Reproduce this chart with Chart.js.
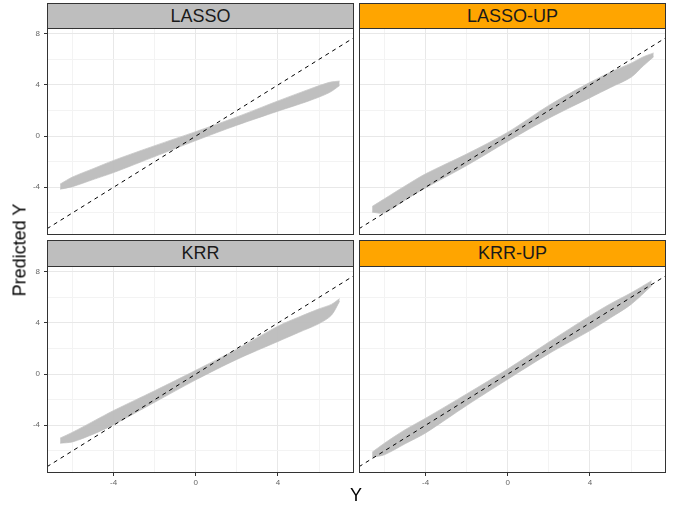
<!DOCTYPE html>
<html><head><meta charset="utf-8">
<script src="https://cdn.jsdelivr.net/npm/chart.js@4/dist/chart.umd.min.js"></script>
<style>
html,body{margin:0;padding:0;background:#fff;width:678px;height:506px;overflow:hidden;font-family:"Liberation Sans",Arial,sans-serif}
.strip{position:absolute;box-sizing:border-box;border:1px solid #333;font-size:18px;color:#1a1a1a;text-align:center}
canvas{position:absolute}
.ttl{position:absolute;font-size:18px;color:#000;white-space:nowrap;transform:translate(-50%,-50%)}
</style></head><body>
<div class="strip" style="left:47px;top:3px;width:307px;height:26px;line-height:24px;background:#bebebe">LASSO</div>
<div class="strip" style="left:359px;top:3px;width:307px;height:26px;line-height:24px;background:#ffa500">LASSO-UP</div>
<div class="strip" style="left:47px;top:240px;width:307px;height:27px;line-height:25px;background:#bebebe">KRR</div>
<div class="strip" style="left:359px;top:240px;width:307px;height:27px;line-height:25px;background:#ffa500">KRR-UP</div>
<canvas id="c0" width="354" height="207" style="left:0;top:28px"></canvas>
<canvas id="c1" width="307" height="207" style="left:359px;top:28px"></canvas>
<canvas id="c2" width="354" height="230" style="left:0;top:266px"></canvas>
<canvas id="c3" width="307" height="230" style="left:359px;top:266px"></canvas>
<div class="ttl" style="left:20px;top:250px;transform:translate(-50%,-50%) rotate(-90deg)">Predicted Y</div>
<div class="ttl" style="left:356px;top:495px">Y</div>
<script>
// ---- data ----
const panels = ['LASSO', 'LASSO-UP', 'KRR', 'KRR-UP'];
const xTicks = [-6, -4, -2, 0, 2, 4, 6];
const yTicks = [-6, -4, -2, 0, 2, 4, 6, 8];
const axisX = [-7.24, 7.70];
const axisY = [-7.73, 8.45];

// point-cloud envelopes: Y values and lower/upper predicted Y
const lassoX  = [-6.6, -6.0, -5.0, -4.0, -2.0, 0.0, 2.0, 4.0, 5.5, 6.5, 7.0];
const lassoLo = [-4.15, -3.95, -3.4, -2.85, -1.6, -0.35, 0.85, 1.95, 2.75, 3.4, 3.95];
const lassoHi = [-3.75, -3.2, -2.55, -1.9, -0.75, 0.35, 1.5, 2.75, 3.65, 4.2, 4.3];

const lassoUpX  = [-6.6, -6.0, -5.0, -4.0, -2.0, 0.0, 2.0, 4.0, 5.0, 6.0, 6.6, 7.1];
const lassoUpLo = [-5.95, -6.0, -5.0, -4.05, -2.3, -0.4, 1.4, 3.0, 3.8, 4.6, 5.5, 6.2];
const lassoUpHi = [-5.5, -4.9, -3.9, -2.95, -1.4, 0.3, 2.4, 4.2, 5.0, 5.7, 6.2, 6.5];

const krrX  = [-6.6, -6.0, -5.0, -4.0, -2.0, 0.0, 2.0, 4.0, 5.0, 6.0, 6.6, 7.0];
const krrLo = [-5.4, -5.3, -4.7, -3.95, -2.2, -0.45, 1.15, 2.55, 3.25, 3.95, 4.6, 5.7];
const krrHi = [-5.0, -4.55, -3.7, -2.85, -1.3, 0.3, 1.95, 3.75, 4.45, 5.1, 5.45, 5.9];

const krrUpX  = [-6.6, -6.0, -5.0, -4.0, -2.0, 0.0, 2.0, 4.0, 5.0, 6.0, 7.0];
const krrUpLo = [-6.5, -6.3, -5.45, -4.6, -2.45, -0.4, 1.6, 3.4, 4.4, 5.45, 6.9];
const krrUpHi = [-6.1, -5.4, -4.35, -3.45, -1.55, 0.4, 2.5, 4.55, 5.5, 6.35, 7.3];

const bands = [
  [lassoX, lassoLo, lassoHi],
  [lassoUpX, lassoUpLo, lassoUpHi],
  [krrX, krrLo, krrHi],
  [krrUpX, krrUpLo, krrUpHi]
];

// ---- rendering ----
const FONT = '"Liberation Sans", Arial, sans-serif';
const borderPlugin = {
  id: 'pborder',
  afterDraw(c) {
    const a = c.chartArea, x = c.ctx;
    x.save(); x.strokeStyle = '#333'; x.lineWidth = 1;
    x.strokeRect(a.left + 0.5, a.top + 0.5, a.right - a.left - 1, a.bottom - a.top - 1);
    x.restore();
  }
};
const isMajor = v => Math.abs(v % 4) < 1e-9;

function scaleOpts(axis, showLabels) {
  const tv = axis === 'x' ? xTicks : yTicks;
  const lim = axis === 'x' ? axisX : axisY;
  return {
    type: 'linear', min: lim[0], max: lim[1],
    afterBuildTicks: s => { s.ticks = tv.map(v => ({ value: v })); },
    afterFit: s => {
      if (axis === 'x') s.height = showLabels ? 23 : 0;
      else s.width = showLabels ? 47 : 0;
      s.paddingTop = 0; s.paddingBottom = 0; s.paddingLeft = 0; s.paddingRight = 0;
    },
    border: { display: false },
    grid: {
      color: ctx => (ctx.tick && isMajor(ctx.tick.value)) ? '#e8e8e8' : '#f3f3f3',
      lineWidth: 1,
      drawTicks: showLabels,
      tickLength: 3,
      tickColor: ctx => (ctx.tick && isMajor(ctx.tick.value)) ? '#333' : 'rgba(0,0,0,0)'
    },
    ticks: {
      display: showLabels, autoSkip: false, maxRotation: 0,
      padding: axis === 'y' ? 4 : 2, color: '#666', font: { size: 8, family: FONT },
      callback: v => isMajor(v) ? String(v) : ''
    }
  };
}

panels.forEach((name, i) => {
  const [xs, lo, hi] = bands[i];
  const left = i % 2 === 0, bottom = i >= 2;
  new Chart(document.getElementById('c' + i), {
    type: 'line',
    data: {
      datasets: [
        { label: name + ' lo', data: xs.map((x, k) => ({ x, y: lo[k] })), borderColor: 'rgba(200,200,200,0.8)', borderWidth: 1,
          pointRadius: 0, fill: false, tension: 0.3, order: 2 },
        { label: name, data: xs.map((x, k) => ({ x, y: hi[k] })), borderColor: 'rgba(200,200,200,0.8)', borderWidth: 1,
          backgroundColor: 'rgba(188,188,188,0.95)', pointRadius: 0, fill: '-1', tension: 0.3, order: 1 },
        { label: 'y = x', data: axisX.map(v => ({ x: v, y: v })), borderColor: '#000', borderWidth: 1,
          borderDash: [4, 4], pointRadius: 0, fill: false, order: 0 }
      ]
    },
    options: {
      responsive: false, animation: false, devicePixelRatio: 1,
      layout: { padding: 0 },
      plugins: { legend: { display: false }, tooltip: { enabled: false } },
      scales: { x: scaleOpts('x', bottom), y: scaleOpts('y', left) }
    },
    plugins: [borderPlugin]
  });
});
</script>
</body></html>
